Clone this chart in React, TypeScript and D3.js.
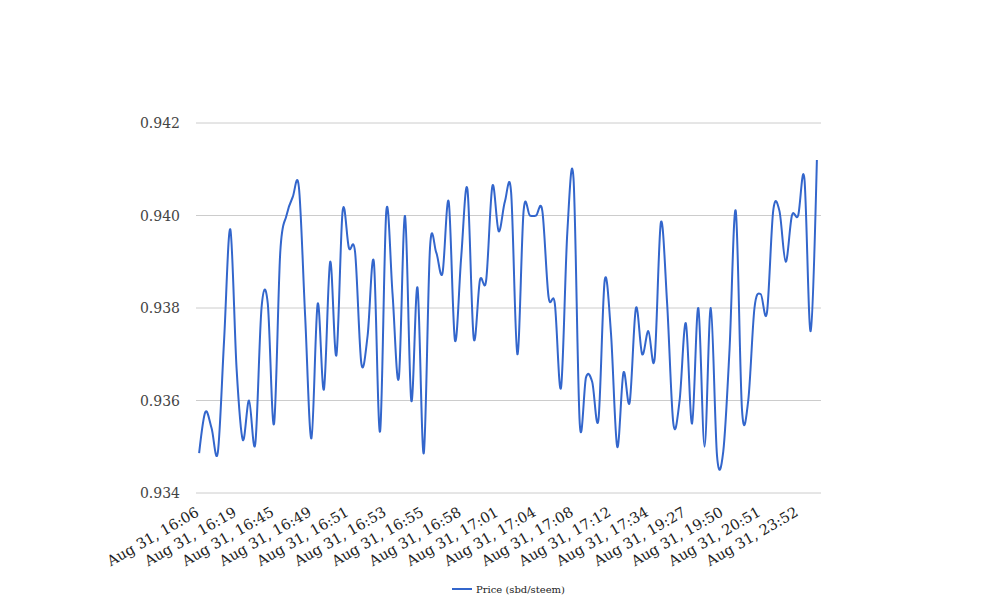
import React from "react";
import * as d3 from "d3";

const tickLabels = [
  "Aug 31, 16:06", "Aug 31, 16:19", "Aug 31, 16:45", "Aug 31, 16:49", "Aug 31, 16:51",
  "Aug 31, 16:53", "Aug 31, 16:55", "Aug 31, 16:58", "Aug 31, 17:01", "Aug 31, 17:04",
  "Aug 31, 17:08", "Aug 31, 17:12", "Aug 31, 17:34", "Aug 31, 19:27", "Aug 31, 19:50",
  "Aug 31, 20:51", "Aug 31, 23:52",
];
const labelEvery = 6;

const prices = [
  0.93486, 0.93575, 0.9354, 0.93488, 0.9373, 0.9397, 0.9367, 0.93515, 0.936, 0.93506,
  0.938, 0.9381, 0.93549, 0.9392, 0.94, 0.9404, 0.9406, 0.9378, 0.93518, 0.93809,
  0.93624, 0.939, 0.93698, 0.9401, 0.9393, 0.9392, 0.9368, 0.9374, 0.939, 0.93533,
  0.9401, 0.9383, 0.93648, 0.93999, 0.936, 0.93844, 0.93486, 0.9393, 0.9392, 0.93875,
  0.9403, 0.9373, 0.9391, 0.94057, 0.93735, 0.9386, 0.9386, 0.94064, 0.93966, 0.9403,
  0.9405, 0.937, 0.9401, 0.94, 0.94, 0.9401, 0.93824, 0.9381, 0.93628, 0.93962,
  0.9408, 0.9355, 0.9365, 0.9364, 0.93559, 0.9386, 0.93746, 0.935, 0.9366, 0.93596,
  0.938, 0.937, 0.9375, 0.9369, 0.93985, 0.9381, 0.9355, 0.936, 0.93767, 0.9355,
  0.938, 0.935, 0.938, 0.9348, 0.9349, 0.9371, 0.9401, 0.9358, 0.936, 0.938,
  0.9383, 0.9379, 0.9401, 0.9401, 0.939, 0.94, 0.94, 0.9408, 0.9375, 0.9412,
];

const yTicks = [0.934, 0.936, 0.938, 0.94, 0.942];
const seriesName = "Price (sbd/steem)";

const W = 1008;
const H = 616;
const left = 196;
const right = 820;
const top = 123;
const bottom = 493;
const font = "'DejaVu Serif', serif";

export default function App() {
  const idx = d3.range(prices.length);
  const x = d3.scalePoint<number>().domain(idx).range([left, right]).padding(0.5);
  const y = d3.scaleLinear().domain([0.934, 0.942]).range([bottom, top]);
  const line = d3
    .line<number>()
    .x((_, i) => x(i) as number)
    .y((d) => y(d))
    .curve(d3.curveCatmullRom.alpha(0));

  return (
    <svg
      width={W}
      height={H}
      style={{ position: "absolute", left: 0, top: 0, background: "#fff" }}
    >
      <rect x={0} y={0} width={W} height={H} fill="#fff" />
      {yTicks.map((t) => (
        <g key={t}>
          <line x1={left} x2={right + 1} y1={y(t)} y2={y(t)} stroke="#cccccc" strokeWidth={1} />
          <text
            x={180}
            y={y(t)}
            dy="0.36em"
            textAnchor="end"
            fontFamily={font}
            fontSize={14}
            fill="#444"
          >
            {d3.format(".3f")(t)}
          </text>
        </g>
      ))}
      <path d={line(prices) || ""} fill="none" stroke="#3366cc" strokeWidth={2} />
      {tickLabels.map((lab, k) => {
        const px = (x(k * labelEvery) as number) + 1;
        const py = 515;
        return (
          <text
            key={lab}
            x={px}
            y={py}
            textAnchor="end"
            fontFamily={font}
            fontSize={14.5}
            fill="#222"
            transform={`rotate(-30 ${px} ${py})`}
          >
            {lab}
          </text>
        );
      })}
      <g>
        <line x1={452} x2={472} y1={589} y2={589} stroke="#3366cc" strokeWidth={2} />
        <text x={476} y={589} dy="0.36em" fontFamily={font} fontSize={10} fill="#222">
          {seriesName}
        </text>
      </g>
    </svg>
  );
}
